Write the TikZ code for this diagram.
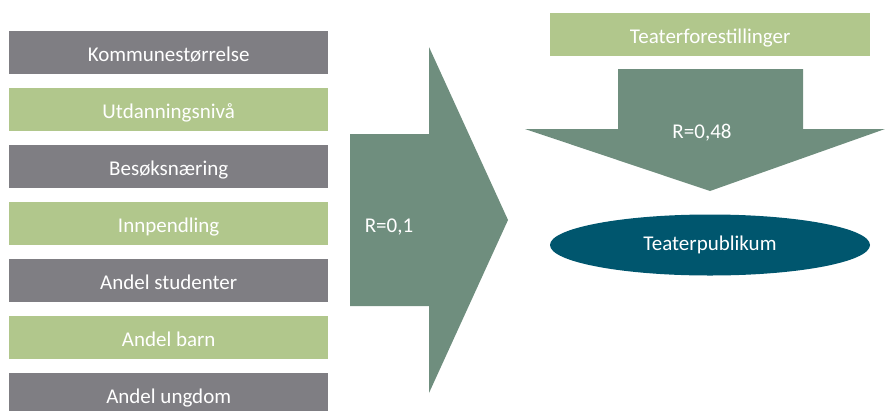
\documentclass[tikz,border=0pt]{standalone}
\usepackage{fontspec}
\setmainfont{Carlito}
\usetikzlibrary{shapes.geometric}
\definecolor{boxgray}{HTML}{7F7E83}
\definecolor{boxgreen}{HTML}{B1C78C}
\definecolor{arrowgreen}{HTML}{6F8E7E}
\definecolor{ellblue}{HTML}{00566E}
\begin{document}
\begin{tikzpicture}[x=1pt,y=-1pt,
  lbl/.style={text=white,font=\fontsize{21}{24}\selectfont},
  boxtext/.style={text height=19pt,text depth=1pt},
  factor/.style={lbl,boxtext,minimum width=319pt,minimum height=43pt,inner sep=0pt,anchor=north west},
  grayfac/.style={factor,fill=boxgray},
  greenfac/.style={factor,fill=boxgreen}]
\useasboundingbox (0,0) rectangle (885,410);
\begin{scope}
\clip (0,0) rectangle (885,410);
\node[grayfac]  (k1) at (9,31)  {Kommunestørrelse};
\node[greenfac] (k2) at (9,88)  {Utdanningsnivå};
\node[grayfac]  (k3) at (9,145) {Besøksnæring};
\node[greenfac] (k4) at (9,202) {Innpendling};
\node[grayfac]  (k5) at (9,259) {Andel studenter};
\node[greenfac] (k6) at (9,316) {Andel barn};
\node[grayfac]  (k7) at (9,373) {Andel ungdom};
\end{scope}
% right arrow
\fill[arrowgreen] (350,134) -- (429,134) -- (429,47) -- (508,220) -- (429,393) -- (429,306) -- (350,306) -- cycle;
\node[lbl] (r1) at (389,227) {R=0,1};
% top box
\node[greenfac,minimum width=320pt] (tf) at (550,13) {Teaterforestillinger};
% down arrow
\fill[arrowgreen] (618,69) -- (803,69) -- (803,129) -- (885,129) -- (710,191) -- (525,129) -- (618,129) -- cycle;
\node[lbl] (r2) at (702,133) {R=0,48};
% ellipse
\node[ellipse,fill=ellblue,lbl,minimum width=320pt,minimum height=61pt,inner sep=0pt] (tp) at (710,245) {Teaterpublikum};
\end{tikzpicture}
\end{document}
